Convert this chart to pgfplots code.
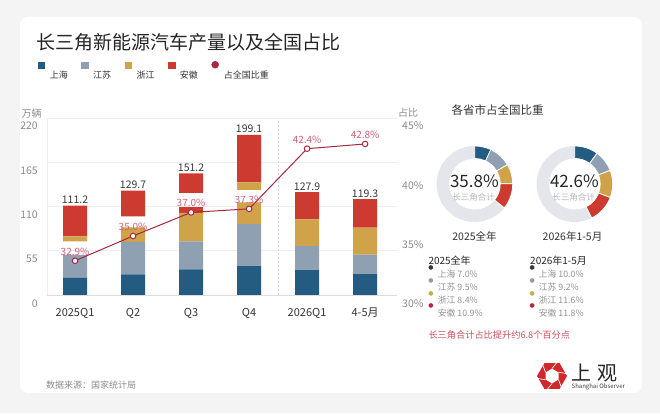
\documentclass[border=0pt]{standalone}
\usepackage{pgfplots}
\pgfplotsset{compat=1.18}
\usepackage{pgfplotstable}
\usepackage{fontspec}
\setmainfont{Noto Sans CJK SC}
\newfontfamily\dejavu{DejaVu Sans}
\newcommand{\fs}[1]{\fontsize{#1bp}{#1bp}\selectfont}

\definecolor{cBlue}{HTML}{245B80}
\definecolor{cGrey}{HTML}{8FA0B2}
\definecolor{cGold}{HTML}{D0A24A}
\definecolor{cRed}{HTML}{CD3B30}
\definecolor{cLine}{HTML}{A82840}
\definecolor{cPct}{HTML}{D4607A}
\definecolor{cTick}{HTML}{8C8C8C}
\definecolor{cText}{HTML}{333333}
\definecolor{cDark}{HTML}{3A3A3A}
\definecolor{cBg}{HTML}{F4F4F5}
\definecolor{cRing}{HTML}{E4E6EB}
\definecolor{cGrid}{HTML}{EEEEEE}
\definecolor{cAxis}{HTML}{DDDDDD}
\definecolor{cNote}{HTML}{D0505E}
\definecolor{cDotA}{HTML}{2D3B48}
\definecolor{cDotB}{HTML}{9A9A9A}
\definecolor{cDotC}{HTML}{C2B04A}
\definecolor{cDotD}{HTML}{B2293F}
\definecolor{cLogo}{HTML}{D0282C}

% stacked segments (万辆); "gap" segments are left empty as in the source chart
\pgfplotstableread{
x blue grey goldA redA gap goldB redB
0 21.4 28.6 0    0   16.7 6.2 38.3
1 25.6 40.3 18.1 0   13.6 0   32.1
2 31.7 35.0 35.3 8.0 17.0 0   24.2
3 35.8 52.4 26.8 0   15.6 9.4 59.1
4 30.9 29.7 33.3 0   0    0   34.0
5 26.0 24.3 33.4 0   0    0   35.6
}\bars

\pgfplotstableread{
x total
0 111.2
1 129.7
2 151.2
3 199.1
4 127.9
5 119.3
}\totals

\pgfplotstableread{
x share
0 32.9
1 35.0
2 37.0
3 37.3
4 42.4
5 42.8
}\shares

\pgfplotsset{
  base/.style={
    at={(47bp,118bp)}, anchor=south west, scale only axis,
    width=350bp, height=177bp, xmin=-0.483, xmax=5.55,
    /pgf/number format/assume math mode=true,
  }
}

\newcommand{\donut}[3]{%
  \begin{scope}[shift={(#1,#2)}]
    \fill[cRing] (0,0) circle[radius=38];
    \foreach \v/\c [remember=\e as \s (initially 0), evaluate=\v as \e using \s+3.6*\v] in {#3} {
      \fill[\c, draw=white, line width=0.8]
        (90-\s:38) arc[start angle=90-\s, end angle=90-\e, radius=38]
        -- (90-\e:25.5) arc[start angle=90-\e, end angle=90-\s, radius=25.5] -- cycle;
    }
    \fill[white] (0,0) circle[radius=25.5];
  \end{scope}}

\begin{document}
\begin{tikzpicture}[x=1bp,y=1bp]
\path[use as bounding box] (0,0) rectangle (660,413);
\fill[cBg] (0,0) rectangle (660,413);
\fill[white, rounded corners=8] (20,20) rectangle (642,396);

% title
\node[anchor=west, inner sep=0pt, text=black!85] at (36,370.5) {\fs{19}长三角新能源汽车产量以及全国占比};

% bars
\begin{axis}[base,
  ymin=0, ymax=220,
  ybar stacked, bar width=24bp,
  axis line style={draw=none},
  major tick length=0pt,
  xtick={0,...,5},
  xticklabels={2025Q1,Q2,Q3,Q4,2026Q1,4-5月},
  xticklabel style={anchor=base, inner sep=0pt, yshift=-21bp, font=\fs{11}, text=cText},
  ytick={0,55,110,165,220},
  yticklabel style={anchor=base east, inner sep=0pt, xshift=-9bp, yshift=-12bp, font=\fs{10.5}, text=cTick},
  ymajorgrids, major grid style={cGrid, line width=0.6bp},
]
\draw[cAxis, line width=0.7bp] (rel axis cs:0,0) -- (rel axis cs:1,0);
\draw[cGrid, line width=0.6bp] (rel axis cs:0,0) -- (rel axis cs:0,1);
\draw[cAxis, line width=0.6bp, dash pattern=on 2bp off 2bp] (axis cs:3.5,0) -- (axis cs:3.5,220);
\addplot[fill=cBlue, draw=none] table[x=x, y=blue] {\bars};
\addplot[fill=cGrey, draw=none] table[x=x, y=grey] {\bars};
\addplot[fill=cGold, draw=none] table[x=x, y=goldA] {\bars};
\addplot[fill=cRed, draw=none] table[x=x, y=redA] {\bars};
\addplot[fill=none, draw=none] table[x=x, y=gap] {\bars};
\addplot[fill=cGold, draw=none] table[x=x, y=goldB] {\bars};
\addplot[fill=cRed, draw=none] table[x=x, y=redB] {\bars};
\end{axis}

% totals + legend
\begin{axis}[base, ymin=0, ymax=220, axis lines=none, ticks=none,
  legend style={draw=none, fill=none, at={(axis description cs:-0.0266,1.2147)}, anchor=south west,
    legend columns=5, inner sep=0pt, font=\fs{9}, text=cText,
    /tikz/every odd column/.append style={column sep=5bp},
    /tikz/every even column/.append style={column sep=13.5bp},
    nodes={inner sep=0pt}},
  legend cell align=left,
]
\addlegendimage{legend image code/.code={\fill[cBlue] (0bp,7bp) rectangle (6.5bp,13.5bp);}}
\addlegendentry{上海}
\addlegendimage{legend image code/.code={\fill[cGrey] (0bp,7bp) rectangle (6.5bp,13.5bp);}}
\addlegendentry{江苏}
\addlegendimage{legend image code/.code={\fill[cGold] (0bp,7bp) rectangle (6.5bp,13.5bp);}}
\addlegendentry{浙江}
\addlegendimage{legend image code/.code={\fill[cRed] (0bp,7bp) rectangle (6.5bp,13.5bp);}}
\addlegendentry{安徽}
\addlegendimage{legend image code/.code={\fill[cLine] (3.5bp,10.5bp) circle[radius=3.5bp];}}
\addlegendentry{占全国比重}
\addplot[draw=none, mark=none, forget plot, point meta=y,
  nodes near coords={\pgfmathprintnumber[fixed,fixed zerofill,precision=1]{\pgfplotspointmeta}},
  every node near coord/.append style={anchor=south, inner sep=1.5bp, font=\fs{10.5}, text=cDark}]
  table[x=x, y=total] {\totals};
\end{axis}

% share line
\begin{axis}[base, ymin=30, ymax=45,
  axis x line=none, axis y line*=right, axis line style={draw=none},
  major tick length=0pt,
  ytick={30,35,40,45},
  yticklabel={\pgfmathprintnumber{\tick}\%},
  yticklabel style={anchor=base west, inner sep=0pt, xshift=5bp, yshift=-12bp, font=\fs{10.5}, text=cTick},
]
\addplot[cLine, line width=1bp, mark=*, mark size=2.8bp,
  mark options={fill=white, draw=cLine, line width=1bp}, point meta=y,
  nodes near coords={\pgfmathprintnumber[fixed,fixed zerofill,precision=1]{\pgfplotspointmeta}\%},
  every node near coord/.append style={anchor=south, inner sep=0pt, yshift=5bp, font=\fs{10}, text=cPct}]
  table[x=x, y=share] {\shares};
\end{axis}

% axis unit labels
\node[inner sep=0pt, text=cTick] at (31.5,299) {\fs{10}万辆};
\node[inner sep=0pt, text=cTick] at (408,300) {\fs{10}占比};

% right panel
\node[anchor=west, inner sep=0pt, text=cText] at (451.5,303) {\fs{11.5}各省市占全国比重};
\donut{474.7}{229}{7.0/cBlue,9.5/cGrey,8.4/cGold,10.9/cRed}
\donut{574.7}{229}{10.0/cBlue,9.2/cGrey,11.6/cGold,11.8/cRed}
\node[inner sep=0pt, text=black!85] at (474.4,232.2) {\fs{17}35.8\%};
\node[inner sep=0pt, text=black!85] at (574.4,232.2) {\fs{17}42.6\%};
\node[inner sep=0pt, text=black!28] at (473.5,215.7) {\fs{8.5}长三角合计};
\node[inner sep=0pt, text=black!28] at (573.5,215.7) {\fs{8.5}长三角合计};
\node[inner sep=0pt, text=cText] at (474.5,177) {\fs{10.5}2025全年};
\node[inner sep=0pt, text=cText] at (572.5,177) {\fs{10.5}2026年1-5月};

% province legend
\node[anchor=west, inner sep=0pt, text=black!85] at (428.3,152.3) {\fs{10}2025全年};
\node[anchor=west, inner sep=0pt, text=black!85] at (530,152.3) {\fs{10}2026年1-5月};
\foreach \c/\yy [count=\i] in {cDotA/0, cDotB/1, cDotC/2, cDotD/3} {
  \node[inner sep=0pt, text=\c] at (431,145.3-12.9*\yy) {\dejavu\fs{6}●};
  \node[inner sep=0pt, text=\c] at (532.3,145.3-12.9*\yy) {\dejavu\fs{6}●};
}
\foreach \t [count=\i from 0] in {上海 7.0\%, 江苏 9.5\%, 浙江 8.4\%, 安徽 10.9\%}
  \node[anchor=west, inner sep=0pt, text=black!42] at (437.7,138.7-12.9*\i) {\fs{8.8}\t};
\foreach \t [count=\i from 0] in {上海 10.0\%, 江苏 9.2\%, 浙江 11.6\%, 安徽 11.8\%}
  \node[anchor=west, inner sep=0pt, text=black!42] at (538.7,138.7-12.9*\i) {\fs{8.8}\t};
\node[anchor=west, inner sep=0pt, text=cNote] at (428.3,78) {\fs{9.2}长三角合计占比提升约6.8个百分点};

% source
\node[anchor=west, inner sep=0pt, text=black!45] at (46,28) {\fs{9}数据来源：国家统计局};

% logo
\begin{scope}[shift={(552,37)}]
  \fill[cLogo, even odd rule] (0:15) -- (60:15) -- (120:15) -- (180:15) -- (240:15) -- (300:15) -- cycle
    (30:7.5) -- (90:7.5) -- (150:7.5) -- (210:7.5) -- (270:7.5) -- (330:7.5) -- cycle;
  \foreach \a in {0,60,...,300} \draw[white, line width=0.7] (\a+30:7.5) -- (\a+10:14.5);
\end{scope}
\node[anchor=west, inner sep=0pt, text=black!85] at (571,39.7) {\fs{20}上\hspace{6bp}观};
\node[anchor=west, inner sep=0pt, text=black!75] at (571.5,26.3) {\fs{6}Shanghai Observer};
\end{tikzpicture}
\end{document}
